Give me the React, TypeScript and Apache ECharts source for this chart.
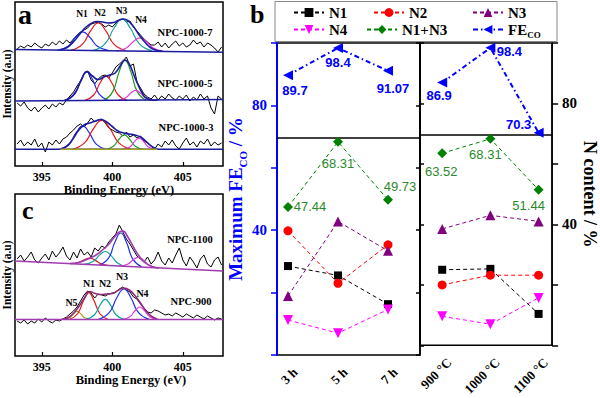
import React, { useEffect, useRef } from 'react';
import * as echarts from 'echarts';

const SERIF = '"Liberation Serif", "Times New Roman", serif';
const SANS = '"Liberation Sans", Arial, sans-serif';

// ---------- Panel a / c : XPS spectra (binding energy grid, eV) ----------
const ENERGY = [393.25, 393.5, 393.75, 394, 394.25, 394.5, 394.75, 395, 395.25, 395.5, 395.75, 396, 396.25, 396.5, 396.75, 397, 397.25, 397.5, 397.75, 398, 398.25, 398.5, 398.75, 399, 399.25, 399.5, 399.75, 400, 400.25, 400.5, 400.75, 401, 401.25, 401.5, 401.75, 402, 402.25, 402.5, 402.75, 403, 403.25, 403.5, 403.75, 404, 404.25, 404.5, 404.75, 405, 405.25, 405.5, 405.75, 406, 406.25, 406.5, 406.75, 407, 407.25, 407.5, 407.75];

const RAW_1000_7 = [117, 120, 118, 121, 119, 123, 120, 118, 122, 120, 124, 121, 125, 122, 126, 123, 127, 131, 134, 136, 138, 142, 143, 144, 142, 139, 141, 139, 143, 146, 147, 144, 145, 139, 135, 131, 127, 124, 121, 121, 124, 119, 123, 118, 122, 125, 120, 123, 119, 121, 126, 122, 124, 119, 123, 121, 118, 114, 119];
const RAW_1000_5 = [63, 60, 64, 58, 55, 59, 54, 58, 61, 57, 62, 59, 63, 61, 66, 70, 74, 80, 85, 92, 95, 86, 82, 87, 90, 91, 88, 93, 99, 102, 105, 109, 100, 102, 84, 78, 72, 69, 67, 71, 66, 70, 67, 72, 68, 66, 70, 67, 71, 65, 69, 66, 72, 67, 70, 58, 52, 70, 67];
const RAW_1000_3 = [22, 26, 20, 24, 21, 27, 19, 23, 14, 24, 21, 26, 22, 27, 29, 33, 36, 40, 42, 39, 43, 48, 44, 46, 47, 43, 38, 36, 34, 33, 30, 34, 29, 31, 28, 30, 25, 23, 20, 17, 22, 19, 25, 21, 26, 20, 17, 23, 28, 21, 24, 19, 25, 22, 27, 20, 24, 21, 23];
const RAW_1100 = [97, 101, 95, 99, 104, 96, 93, 98, 102, 96, 105, 99, 103, 109, 100, 96, 104, 98, 107, 101, 104, 99, 108, 105, 110, 108, 114, 118, 122, 131, 124, 117, 112, 106, 100, 97, 94, 99, 92, 96, 104, 95, 91, 98, 93, 101, 108, 96, 90, 99, 94, 88, 97, 101, 92, 89, 96, 99, 91];
const RAW_900 = [35, 33, 36, 32, 35, 33, 37, 34, 38, 35, 33, 36, 35, 37, 39, 42, 45, 49, 55, 61, 65, 63, 58, 62, 61, 60, 62, 63, 64, 67, 69, 66, 64, 59, 57, 52, 48, 44, 43, 46, 45, 43, 41, 42, 40, 43, 41, 39, 42, 40, 38, 41, 39, 37, 40, 38, 36, 38, 37];

const BASE_1000_7 = [[393.1, 116.4], [407.85, 113.8]];
const BASE_1000_5 = [[393.1, 65.0], [407.85, 66.6]];
const BASE_1000_3 = [[393.1, 16.7], [407.85, 16.7]];
const BASE_1000_3_FIT = [[396.3, 16.7], [403.2, 16.7]];
const BASE_1100 = [[393.1, 95], [407.85, 85]];
const BASE_900 = [[393.1, 36.6], [407.85, 36.6]];

const ENV_1000_7 = [[396.3, 116.2], [396.8, 118.5], [397.3, 125], [397.7, 132], [398.1, 138.5], [398.5, 142.5], [398.9, 144.5], [399.3, 144], [399.7, 143], [400.1, 143.5], [400.5, 146], [400.8, 147], [401.1, 145.5], [401.5, 139.5], [401.9, 131], [402.3, 124], [402.7, 118.5], [403.1, 115.8], [403.5, 115]];
const P7_N1 = [[396.1, 115.7], [396.86, 119.8], [397.41, 129.0], [397.9, 134.2], [398.39, 129.0], [398.94, 119.8], [399.7, 115.7]];
const P7_N2 = [[397.05, 115.6], [397.87, 121.6], [398.47, 135.3], [399.0, 143.0], [399.53, 135.3], [400.13, 121.6], [400.95, 115.6]];
const P7_N3 = [[398.6, 115.3], [399.48, 122.2], [400.13, 138.0], [400.7, 146.8], [401.27, 138.0], [401.92, 122.2], [402.8, 115.3]];
const P7_N4 = [[400.3, 115.1], [400.99, 118.0], [401.5, 124.5], [401.95, 128.1], [402.4, 124.5], [402.91, 118.0], [403.6, 115.1]];

const ENV_1000_5 = [[396.6, 65.8], [397.0, 68], [397.4, 74], [397.8, 86], [398.2, 94.5], [398.6, 90], [399.0, 86.5], [399.4, 89], [399.8, 91], [400.2, 93], [400.6, 101], [400.9, 106], [401.2, 102], [401.5, 92], [401.8, 82], [402.1, 73.5], [402.4, 68], [402.8, 66], [403.2, 65.8]];
const P5_N1 = [[396.7, 65.6], [397.33, 71.9], [397.79, 86.1], [398.2, 94.1], [398.61, 86.1], [399.07, 71.9], [399.7, 65.6]];
const P5_N2 = [[398.05, 65.6], [398.68, 71.0], [399.14, 83.2], [399.55, 90.1], [399.96, 83.2], [400.42, 71.0], [401.05, 65.6]];
const P5_N3 = [[399.4, 65.6], [400.03, 74.4], [400.49, 94.4], [400.9, 105.6], [401.31, 94.4], [401.77, 74.4], [402.4, 65.6]];
const P5_N4 = [[400.39, 65.7], [400.92, 67.9], [401.31, 72.9], [401.65, 75.7], [401.99, 72.9], [402.38, 67.9], [402.91, 65.7]];

const ENV_1000_3 = [[396.3, 17], [396.8, 20], [397.2, 27], [397.6, 35.5], [398.0, 41], [398.4, 43], [398.8, 45], [399.2, 46.5], [399.6, 44], [400.0, 39.5], [400.4, 35], [400.8, 33], [401.2, 32], [401.6, 31], [402.0, 29], [402.4, 24.5], [402.8, 19.5], [403.2, 17]];
const P3_N1 = [[396.25, 16.7], [396.94, 21.9], [397.45, 33.6], [397.9, 40.2], [398.35, 33.6], [398.86, 21.9], [399.55, 16.7]];
const P3_N2 = [[397.15, 16.7], [398.03, 23.1], [398.68, 37.6], [399.25, 45.7], [399.82, 37.6], [400.47, 23.1], [401.35, 16.7]];
const P3_N3 = [[399.5, 16.7], [400.07, 19.8], [400.49, 27.0], [400.85, 31.0], [401.21, 27.0], [401.63, 19.8], [402.2, 16.7]];
const P3_N4 = [[400.76, 16.7], [401.24, 19.1], [401.59, 24.6], [401.9, 27.7], [402.21, 24.6], [402.56, 19.1], [403.04, 16.7]];

const ENV_1100 = [[397.0, 92.5], [397.6, 93.5], [398.1, 96], [398.5, 98.5], [398.9, 101.5], [399.3, 106], [399.7, 111], [400.1, 118], [400.45, 123.5], [400.75, 125], [401.1, 119], [401.5, 109], [401.9, 100], [402.3, 93.5], [402.8, 89.5], [403.3, 88]];
const P11_N1 = [[397.05, 92.3], [397.62, 93.4], [398.04, 96.4], [398.4, 98.0], [398.76, 95.9], [399.18, 92.4], [399.75, 90.5]];
const P11_N2 = [[398.0, 91.7], [398.63, 94.4], [399.09, 100.9], [399.5, 104.5], [399.91, 100.4], [400.37, 93.1], [401.0, 89.6]];
const P11_N3 = [[399.1, 90.9], [399.73, 97.8], [400.19, 114.0], [400.6, 123.0], [401.01, 113.4], [401.47, 96.6], [402.1, 88.9]];
const P11_N4 = [[400.5, 90.0], [401.07, 91.7], [401.49, 96.3], [401.85, 98.7], [402.21, 95.8], [402.63, 90.7], [403.2, 88.2]];

const ENV_900 = [[396.4, 36.8], [396.9, 38.5], [397.3, 43.5], [397.7, 51], [398.1, 59.5], [398.4, 64.5], [398.8, 62.5], [399.2, 61.5], [399.6, 62], [400.0, 62.5], [400.4, 65.5], [400.8, 68], [401.2, 66], [401.6, 60.5], [402.0, 53], [402.4, 45], [402.8, 39.5], [403.2, 37]];
const P9_N5 = [[396.6, 36.6], [396.98, 38.4], [397.25, 42.4], [397.5, 44.6], [397.75, 42.4], [398.02, 38.4], [398.4, 36.6]];
const P9_N1 = [[396.98, 36.6], [397.55, 42.5], [397.97, 55.8], [398.33, 63.3], [398.69, 55.8], [399.11, 42.5], [399.68, 36.6]];
const P9_N2 = [[398.15, 36.6], [398.72, 41.0], [399.14, 51.1], [399.5, 56.7], [399.86, 51.1], [400.28, 41.0], [400.85, 36.6]];
const P9_N3 = [[399.02, 36.6], [399.78, 43.3], [400.33, 58.5], [400.82, 67.0], [401.31, 58.5], [401.86, 43.3], [402.62, 36.6]];
const P9_N4 = [[400.75, 36.6], [401.25, 39.3], [401.63, 45.5], [401.95, 49.0], [402.27, 45.5], [402.65, 39.3], [403.15, 36.6]];

const XPS_TICKS = [395, 400, 405];

// ---------- Panel b ----------
const TIME_CATS = ['3 h', '5 h', '7 h'];
const TEMP_CATS = ['900 °C', '1000 °C', '1100 °C'];
const N1_TIME = [28.5, 25.5, 16.3];
const N1_TEMP = [25.0, 25.3, 10.4];
const N2_TIME = [39.8, 23.0, 35.3];
const N2_TEMP = [20.0, 23.2, 23.2];
const N3_TIME = [18.9, 42.8, 33.4];
const N3_TEMP = [38.5, 43.0, 41.0];
const N4_TIME = [11.2, 7.0, 14.6];
const N4_TEMP = [9.6, 7.0, 15.7];
const N13_TIME = [47.44, 68.31, 49.73];
const N13_TEMP = [63.52, 68.31, 51.44];
const FE_TIME = [89.7, 98.4, 91.07];
const FE_TEMP = [86.9, 98.4, 70.3];
const SPLIT_LEVEL = 69.6;

// label offsets (style)
const FE_TIME_OFF = [[7, 15], [0, 15], [5, 18]];
const FE_TEMP_OFF = [[-3, 13], [19, 4], [-20, -8]];
const N13_TIME_OFF = [[22, 0], [0, 22], [12, -13]];
const N13_TEMP_OFF = [[-1, 18], [-5, 16], [-10, 16]];

function pairs(xs: number[], ys: number[]) {
  return xs.map((x, i) => [x, ys[i]]);
}

function xpsLine(grid: number, data: number[][], color: string, width: number, smooth: number | boolean, z = 2) {
  return {
    type: 'line', xAxisIndex: grid, yAxisIndex: grid, data, symbol: 'none', showSymbol: false,
    smooth, silent: true, z, lineStyle: { color, width }, emphasis: { disabled: true },
  };
}

function bSeries(name: string, panel: 0 | 1, vals: number[], symbol: string, size: number, rotate: number,
  color: string, dash: any, width: number, offs?: number[][], labelStyle?: any, markLine?: boolean) {
  const s: any = {
    type: 'line', name, xAxisIndex: panel === 0 ? 2 : 3, yAxisIndex: panel === 0 ? 2 : 5,
    data: vals.map((v, i) => {
      const item: any = { value: [i, v] };
      if (offs) item.label = { show: true, position: 'inside', offset: offs[i] };
      return item;
    }),
    symbol, symbolSize: size, symbolRotate: rotate,
    itemStyle: { color }, lineStyle: { color, width, type: dash },
    label: offs ? { show: true, formatter: (p: any) => String(p.value[1]), ...labelStyle } : { show: false },
    emphasis: { disabled: true }, z: 5,
  };
  if (markLine) {
    s.markLine = {
      silent: true, symbol: ['none', 'none'], label: { show: false },
      lineStyle: { color: '#000', width: 1.5, type: 'solid' },
      data: [{ yAxis: SPLIT_LEVEL }],
    };
  }
  return s;
}

function txt(text: string, x: number, y: number, size: number, align = 'center', extra: any = {}) {
  return {
    type: 'text', x, y, silent: true,
    style: { text, fill: '#000', font: `bold ${size}px ${SERIF}`, align, verticalAlign: 'middle', ...extra },
  };
}

function buildOption(): any {
  const NAVY = '#1c1ca0';
  const BLUE = '#2030e8';
  const RED = '#e8141c';
  const TEAL = '#15a39a';
  const GREEN = '#1f9a1f';
  const MAG = '#e03ce0';
  const PURP = '#a03cb0';
  const OLIVE = '#a8a020';

  const series: any[] = [
    // NPC-1000-7
    xpsLine(0, pairs(ENERGY, RAW_1000_7), '#000', 1, false, 2),
    xpsLine(0, P7_N1, BLUE, 1.2, 0.5, 3),
    xpsLine(0, P7_N2, RED, 1.2, 0.5, 3),
    xpsLine(0, P7_N3, TEAL, 1.2, 0.5, 3),
    xpsLine(0, P7_N4, MAG, 1.2, 0.5, 3),
    xpsLine(0, ENV_1000_7, NAVY, 1.6, 0.5, 4),
    xpsLine(0, BASE_1000_7, NAVY, 1.5, false, 4),
    // NPC-1000-5
    xpsLine(0, pairs(ENERGY, RAW_1000_5), '#000', 1, false, 2),
    xpsLine(0, P5_N1, BLUE, 1.2, 0.5, 3),
    xpsLine(0, P5_N2, RED, 1.2, 0.5, 3),
    xpsLine(0, P5_N3, GREEN, 1.2, 0.5, 3),
    xpsLine(0, P5_N4, MAG, 1.2, 0.5, 3),
    xpsLine(0, ENV_1000_5, NAVY, 1.6, 0.5, 4),
    xpsLine(0, BASE_1000_5, NAVY, 1.5, false, 4),
    // NPC-1000-3
    xpsLine(0, pairs(ENERGY, RAW_1000_3), '#000', 1, false, 2),
    xpsLine(0, P3_N1, BLUE, 1.2, 0.5, 3),
    xpsLine(0, P3_N2, RED, 1.2, 0.5, 3),
    xpsLine(0, P3_N3, GREEN, 1.2, 0.5, 3),
    xpsLine(0, P3_N4, MAG, 1.2, 0.5, 3),
    xpsLine(0, ENV_1000_3, NAVY, 1.6, 0.5, 4),
    xpsLine(0, BASE_1000_3, NAVY, 1.5, false, 4),
    xpsLine(0, BASE_1000_3_FIT, OLIVE, 1.5, false, 4),
    // NPC-1100
    xpsLine(1, pairs(ENERGY, RAW_1100), '#000', 1, false, 2),
    xpsLine(1, P11_N1, RED, 1.2, 0.5, 3),
    xpsLine(1, P11_N2, TEAL, 1.2, 0.5, 3),
    xpsLine(1, P11_N3, BLUE, 1.2, 0.5, 3),
    xpsLine(1, P11_N4, MAG, 1.2, 0.5, 3),
    xpsLine(1, ENV_1100, PURP, 1.6, 0.5, 4),
    xpsLine(1, BASE_1100, PURP, 1.5, false, 4),
    // NPC-900
    xpsLine(1, pairs(ENERGY, RAW_900), '#000', 1, false, 2),
    xpsLine(1, P9_N5, OLIVE, 1.2, 0.5, 3),
    xpsLine(1, P9_N1, RED, 1.2, 0.5, 3),
    xpsLine(1, P9_N2, TEAL, 1.2, 0.5, 3),
    xpsLine(1, P9_N3, BLUE, 1.2, 0.5, 3),
    xpsLine(1, P9_N4, MAG, 1.2, 0.5, 3),
    xpsLine(1, ENV_900, '#8e2a78', 1.6, 0.5, 4),
    xpsLine(1, BASE_900, PURP, 1.5, false, 4),
  ];

  const dash = [4, 3];
  const feDash = [5, 3, 1.5, 3];
  const feLabel = { color: '#0000ff', fontFamily: SANS, fontWeight: 'bold', fontSize: 13 };
  const gLabel = { color: '#2a8a2a', fontFamily: SANS, fontSize: 13 };
  for (const p of [0, 1] as const) {
    series.push(
      bSeries('N1', p, p === 0 ? N1_TIME : N1_TEMP, 'rect', 8, 0, '#000', dash, 1),
      bSeries('N2', p, p === 0 ? N2_TIME : N2_TEMP, 'circle', 9, 0, '#ff0000', dash, 1),
      bSeries('N3', p, p === 0 ? N3_TIME : N3_TEMP, 'triangle', 10, 0, '#800080', dash, 1),
      bSeries('N4', p, p === 0 ? N4_TIME : N4_TEMP, 'triangle', 10, 180, '#ff00ff', dash, 1),
      bSeries('N1+N3', p, p === 0 ? N13_TIME : N13_TEMP, 'diamond', 10, 0, '#008000', dash, 1,
        p === 0 ? N13_TIME_OFF : N13_TEMP_OFF, gLabel),
      bSeries('FECO', p, p === 0 ? FE_TIME : FE_TEMP, 'triangle', 10, 90, '#0000ff', feDash, 2,
        p === 0 ? FE_TIME_OFF : FE_TEMP_OFF, feLabel, true),
    );
  }

  const legNames = ['N1', 'N2', 'N3', 'N4', 'N1+N3', 'FECO'];
  const legPos = [[293, 5], [373, 5], [472, 5], [293, 22], [366, 22], [472, 22]];
  const legend = legNames.map((n, i) => ({
    data: [n], left: legPos[i][0], top: legPos[i][1], padding: 0, itemWidth: 30, itemHeight: 11,
    selectedMode: false,
    formatter: (name: string) => (name === 'FECO' ? '{a|FE}{b|CO}' : `{a|${name}}`),
    textStyle: {
      rich: {
        a: { fontFamily: SERIF, fontWeight: 'bold', fontSize: 15, color: '#000', lineHeight: 15, verticalAlign: 'top' },
        b: { fontFamily: SERIF, fontWeight: 'bold', fontSize: 9, color: '#000', lineHeight: 10, verticalAlign: 'top', padding: [8, 0, 0, 0] },
      },
    },
  }));

  const xpsX = (grid: number, nameShift: number) => ({
    gridIndex: grid, type: 'value', min: 393.1, max: 407.85,
    axisLine: { show: false, onZero: false }, splitLine: { show: false },
    axisTick: { show: true, inside: true, length: 4, customValues: XPS_TICKS, lineStyle: { color: '#000', width: 1.2 } },
    axisLabel: { customValues: XPS_TICKS, color: '#000', fontFamily: SERIF, fontWeight: 'bold', fontSize: 12, margin: 5 },
    name: 'Binding Energy (eV)', nameLocation: 'middle', nameGap: 17,
    nameTextStyle: { color: '#000', fontFamily: SERIF, fontWeight: 'bold', fontSize: 12.5, padding: [0, 0, 0, nameShift] },
  });
  const xpsY = (grid: number, max: number) => ({
    gridIndex: grid, type: 'value', min: 0, max,
    axisLine: { show: false, onZero: false }, axisTick: { show: false }, axisLabel: { show: false }, splitLine: { show: false },
    name: 'Intensity (a.u)', nameLocation: 'middle', nameGap: 2, nameRotate: 90,
    nameTextStyle: { color: '#000', fontFamily: SERIF, fontWeight: 'bold', fontSize: 11.5 },
  });
  const catX = (grid: number, min: number, max: number, cats: string[]) => ({
    gridIndex: grid, type: 'value', min, max,
    axisLine: { show: false, onZero: false }, axisTick: { show: false }, splitLine: { show: false },
    axisLabel: {
      customValues: [0, 1, 2], formatter: (v: number) => cats[Math.round(v)], rotate: 45,
      color: '#000', fontFamily: SERIF, fontWeight: 'bold', fontSize: 13, margin: 22, padding: [0, -10, 0, 0],
    },
  });
  const by = (grid: number, position: string, color: string, inside: boolean, labels: boolean, extra: any = {}) => ({
    gridIndex: grid, type: 'value', min: 0, max: 100, interval: 20, position,
    axisLine: { show: true, onZero: false, lineStyle: { color, width: color === '#0000ff' ? 2 : 1.5 } },
    axisTick: { show: true, inside, length: inside ? 4 : 6, lineStyle: { color, width: 1.5 } },
    axisLabel: labels
      ? { formatter: (v: number) => (v === 40 || v === 80 ? String(v) : ''), color, fontFamily: SERIF, fontWeight: 'bold', fontSize: 15, margin: 10 }
      : { show: false },
    splitLine: { show: false },
    ...extra,
  });

  const gridStyle = { show: true, borderColor: '#000', borderWidth: 1.5, backgroundColor: 'transparent' };

  return {
    animation: false,
    backgroundColor: '#fff',
    grid: [
      { left: 15, top: 2, width: 208, height: 164, ...gridStyle },
      { left: 15, top: 194, width: 208, height: 162, ...gridStyle },
      { left: 277, top: 43, width: 143, height: 312, ...gridStyle },
      { left: 420, top: 43, width: 137, height: 312, ...gridStyle },
    ],
    xAxis: [
      xpsX(0, 0),
      xpsX(1, 24),
      catX(2, -0.22, 2.64, TIME_CATS),
      catX(3, -0.46, 2.28, TEMP_CATS),
    ],
    yAxis: [
      xpsY(0, 164),
      xpsY(1, 162),
      by(2, 'left', '#0000ff', false, true, {
        name: '{a|Maximum FE}{b|CO}{a| / %}', nameLocation: 'middle', nameGap: 31, nameRotate: 90,
        nameTextStyle: {
          rich: {
            a: { fontFamily: SERIF, fontWeight: 'bold', fontSize: 19, color: '#0000ff', lineHeight: 19, verticalAlign: 'top' },
            b: { fontFamily: SERIF, fontWeight: 'bold', fontSize: 11, color: '#0000ff', lineHeight: 11, verticalAlign: 'top', padding: [11, 0, 0, 0] },
          },
        },
      }),
      by(2, 'right', '#000', true, false),
      by(3, 'left', '#000', true, false),
      by(3, 'right', '#000', false, true, {
        name: 'N content / %', nameLocation: 'middle', nameGap: 24, nameRotate: -90,
        nameTextStyle: { color: '#000', fontFamily: SERIF, fontWeight: 'bold', fontSize: 18 },
      }),
    ],
    legend,
    series,
    graphic: [
      { type: 'rect', silent: true, shape: { x: 275, y: 1.5, width: 282, height: 40 }, style: { fill: 'none', stroke: '#888', lineWidth: 1 } },
      txt('a', 18, 14, 28, 'left'),
      txt('b', 250, 14, 26, 'left'),
      txt('c', 22, 210, 26, 'left'),
      txt('N1', 82, 13.5, 9.5), txt('N2', 100, 12.5, 9.5), txt('N3', 121.5, 10.7, 9.5), txt('N4', 141, 19.5, 9.5),
      txt('NPC-1000-7', 185, 32.5, 10.5), txt('NPC-1000-5', 185, 83, 10.5), txt('NPC-1000-3', 186, 127.5, 10.5),
      txt('NPC-1100', 190, 239, 10.5), txt('NPC-900', 191, 301, 10.5),
      txt('N5', 71.5, 302, 10), txt('N1', 89, 283.5, 10), txt('N2', 105, 283.5, 10), txt('N3', 122, 276, 10), txt('N4', 142.5, 293.5, 10),
    ],
  };
}

export default function App() {
  const ref = useRef<HTMLDivElement>(null);
  useEffect(() => {
    document.body.style.margin = '0';
    const chart = echarts.init(ref.current as HTMLDivElement, null, { renderer: 'svg' });
    chart.setOption(buildOption());
    return () => chart.dispose();
  }, []);
  return <div ref={ref} style={{ width: 600, height: 398 }} />;
}
